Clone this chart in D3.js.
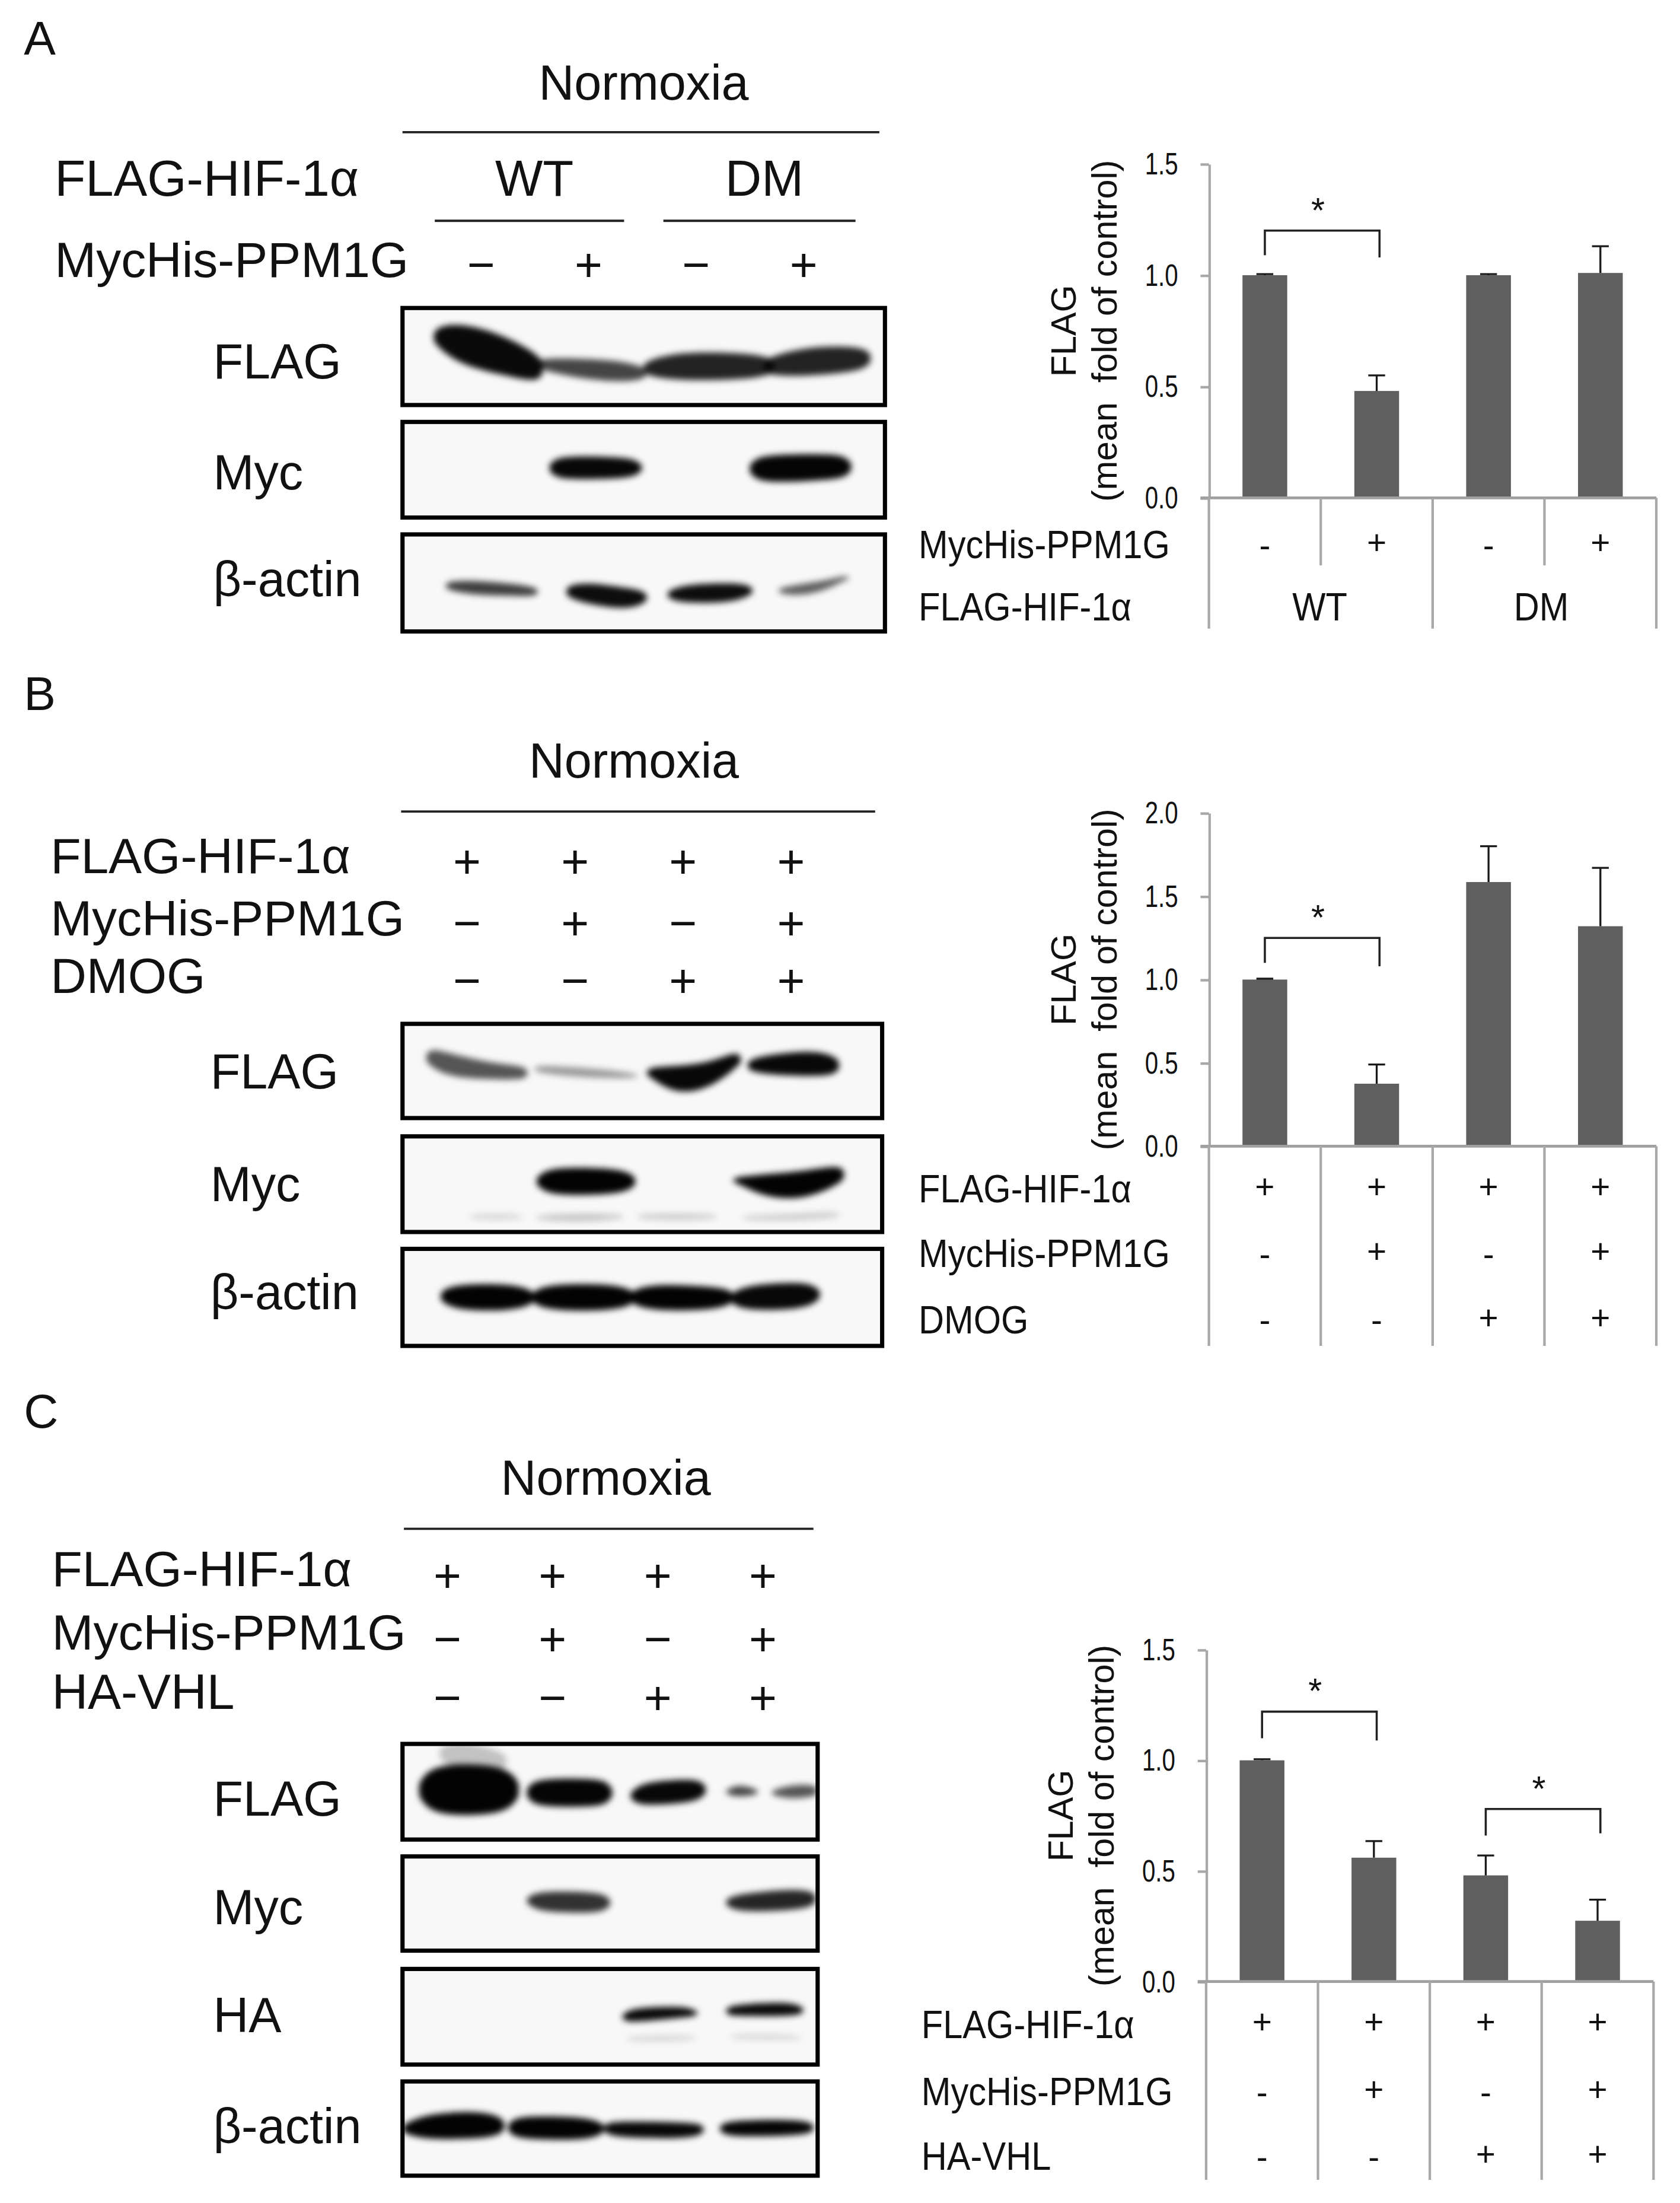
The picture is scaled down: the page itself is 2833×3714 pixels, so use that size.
<!DOCTYPE html>
<html>
<head>
<meta charset="utf-8">
<script src="https://cdn.jsdelivr.net/npm/d3@7"></script>
<style>
  html, body { margin: 0; background: #fff; }
  text { font-family: "Liberation Sans", Arial, sans-serif; fill: #111; }
</style>
</head>
<body>
<script>
// values
const flagLabel = 'FLAG-HIF-1\u03b1', mycLabel = 'MycHis-PPM1G';
const lanes = [0, 1, 2, 3];

const barsA = [1.0, 0.48, 1.0, 1.01];
const errTopA = [1.005, 0.55, 1.005, 1.13];
const ticksA = [0, 0.5, 1, 1.5];

const barsB = [1.0, 0.375, 1.585, 1.32];
const errTopB = [1.005, 0.49, 1.8, 1.67];
const ticksB = [0, 0.5, 1, 1.5, 2];

const barsC = [1.0, 0.56, 0.48, 0.275];
const errTopC = [1.005, 0.635, 0.57, 0.37];
const ticksC = [0, 0.5, 1, 1.5];

// bracket: first lane, last lane, level, left end, right end
const bracketsA = [[0, 1, 1.2, 1.09, 1.08]];
const bracketsB = [[0, 1, 1.25, 1.1, 1.08]];
const bracketsC = [[0, 1, 1.22, 1.1, 1.09], [2, 3, 0.78, 0.66, 0.67]];

// treatment rows over the blots
const rowsB = [[flagLabel, '++++'], [mycLabel, '\u2212+\u2212+'], ['DMOG', '\u2212\u2212++']];
const rowsC = [[flagLabel, '++++'], [mycLabel, '\u2212+\u2212+'], ['HA-VHL', '\u2212\u2212++']];
const rowA = [mycLabel, '\u2212+\u2212+'];

// treatment rows under the bars
const underA = [[mycLabel, '-+-+']];
const underB = [[flagLabel, '++++'], [mycLabel, '-+-+'], ['DMOG', '--++']];
const underC = [[flagLabel, '++++'], [mycLabel, '-+-+'], ['HA-VHL', '--++']];

// blot bands: darkness, then points along the band as [x %, y %, half thickness %] of the gel
const flagA = [
  [.96, [[7.5, 30, 9], [12, 37, 17], [20, 47, 17], [28, 62, 12]]],
  [.72, [[29, 58, 5], [36, 62, 8], [44, 65, 9], [49.5, 67, 6]]],
  [.86, [[51, 62, 7], [58, 60, 12], [70, 60, 11], [76, 60, 8]]],
  [.86, [[76, 60, 8], [84, 55, 12], [92, 53, 11], [96, 52, 8]]]
];
const mycA = [
  [.97, [[31.5, 48, 7], [34, 48, 10], [46, 48, 9], [48.6, 48, 6]]],
  [.98, [[73, 49, 8], [76, 49, 12], [89, 47, 11], [92, 47, 8]]]
];
const actinA = [
  [.75, [[10, 53, 4], [15, 55, 6], [23, 57, 5], [27, 59, 4]]],
  [.95, [[35, 59, 6], [39, 61, 9], [46, 66, 9], [49.6, 65, 6]]],
  [.95, [[56, 62, 5], [60, 61, 8], [68, 60, 8], [71.5, 58, 5]]],
  [.62, [[79, 58, 3], [83, 57, 5], [88, 52, 4], [91.5, 45, 2]]]
];
const flagB = [
  [.66, [[6, 36, 8], [10, 44, 10], [18, 50, 7], [25, 52, 6]]],
  [.38, [[28.5, 48, 3], [33, 50, 4], [42, 53, 4], [48, 55, 2]]],
  [.97, [[52, 52, 5], [57, 60, 12], [64, 55, 11], [69.5, 38, 7]]],
  [.97, [[73, 44, 6], [78, 43, 9], [86, 42, 11], [90, 44, 8]]]
];
const mycB = [
  [.99, [[29, 47, 7], [32, 47, 12], [44, 47, 11], [47.5, 47, 7]]],
  [.99, [[70, 46, 3], [76, 52, 10], [84, 51, 12], [91, 40, 8]]],
  [.13, [[15, 84, 2], [20, 84, 3], [24, 84, 2]]],
  [.2, [[29, 85, 2], [37, 85, 4], [45, 84, 2]]],
  [.18, [[50, 84, 2], [57, 84, 3], [64.5, 84, 2]]],
  [.17, [[72, 85, 2], [80, 85, 3], [90, 82, 3]]]
];
const actinB = [
  [.99, [[9, 49, 7], [13, 50, 11], [22, 50, 11], [26.5, 50, 7]]],
  [.99, [[28, 50, 7], [32, 50, 11], [43, 50, 11], [47.5, 50, 7]]],
  [.99, [[48.5, 50, 7], [53, 50, 11], [63, 51, 10], [68, 50, 7]]],
  [.97, [[69.5, 51, 7], [74, 50, 11], [83, 48, 11], [86, 47, 7]]]
];
const flagC = [
  [.22, [[10, 10, 8], [16, 16, 14], [24, 18, 8]]],
  [.99, [[5, 48, 12], [9, 48, 22], [23, 48, 21], [27, 48, 12]]],
  [.98, [[31, 51, 8], [34, 51, 12], [47, 51, 12], [49.5, 51, 8]]],
  [.97, [[56, 54, 6], [59, 52, 10], [69, 49, 10], [72, 48, 7]]],
  [.72, [[79, 50, 3], [81, 49, 5], [84.5, 50, 3]]],
  [.66, [[90, 51, 3], [94, 50, 6], [99, 49, 5]]]
];
const mycC = [
  [.8, [[31, 47, 5], [34, 48, 9], [46, 49, 9], [49, 49, 6]]],
  [.85, [[79, 49, 5], [83, 49, 8], [93, 46, 9], [98.5, 45, 7]]]
];
const haC = [
  [.96, [[54, 50, 4], [56, 48, 6], [67, 45, 5], [70, 46, 3]]],
  [.96, [[79, 44, 4], [82, 43, 5], [92, 42, 6], [95.5, 43, 4]]],
  [.13, [[55, 73, 2], [62, 73, 3], [69.5, 72, 2]]],
  [.12, [[80, 71, 2], [87, 71, 3], [95, 72, 2]]]
];
const actinC = [
  [.99, [[1, 50, 5], [6, 48, 11], [18, 46, 12], [23.5, 47, 8]]],
  [.99, [[26.5, 49, 7], [30, 49, 10], [43, 50, 10], [47.5, 50, 6]]],
  [.97, [[49.5, 50, 5], [53, 51, 7], [67, 52, 7], [71.5, 51, 5]]],
  [.98, [[77.5, 50, 5], [81, 50, 7], [93, 49, 7], [98, 49, 5]]]
];

const W = 2833 / 2.365, H = 3714 / 2.371;
const svg = d3.select('body').append('svg')
  .attr('width', 2833).attr('height', 3714)
  .attr('viewBox', `0 0 ${W} ${H}`)
  .attr('preserveAspectRatio', 'none')
  .style('display', 'block');

svg.append('defs').append('filter')
  .attr('id', 'soft')
  .attr('x', '-30%').attr('y', '-80%').attr('width', '160%').attr('height', '260%')
  .append('feGaussianBlur').attr('stdDeviation', 2.2);

function text(x, y, s, size, anchor, sy) {
  return svg.append('text')
    .attr('transform', `translate(${x},${y}) scale(1,${sy || 1})`)
    .attr('font-size', size)
    .attr('text-anchor', anchor || 'start')
    .text(s);
}

function rule(x1, x2, y) {
  svg.append('line').attr('x1', x1).attr('x2', x2).attr('y1', y).attr('y2', y)
    .attr('stroke', '#222').attr('stroke-width', 1.6);
}

const bandArea = d3.area().curve(d3.curveBasis);
let clipId = 0;

// round the two ends of a band so the blur gives a blob, not a cut edge
function rounded(pts) {
  const a = pts[0], b = pts[pts.length - 1];
  return [[a[0] - 1, a[1], a[2] * 0.35], ...pts, [b[0] + 1, b[1], b[2] * 0.35]];
}

function blot(x0, x1, y0, y1, bands, label, labelX, labelY) {
  const sx = d3.scaleLinear().domain([0, 100]).range([x0, x1]);
  const sy = d3.scaleLinear().domain([0, 100]).range([y0, y1]);
  const id = 'gel' + (clipId++);
  svg.select('defs').append('clipPath').attr('id', id)
    .append('rect').attr('x', x0).attr('y', y0).attr('width', x1 - x0).attr('height', y1 - y0);
  svg.append('rect').attr('x', x0).attr('y', y0).attr('width', x1 - x0).attr('height', y1 - y0)
    .attr('fill', '#f8f8f8');
  const g = svg.append('g').attr('clip-path', `url(#${id})`).append('g').attr('filter', 'url(#soft)');
  g.selectAll('path').data(bands).join('path')
    .attr('fill', '#000')
    .attr('fill-opacity', d => d[0])
    .attr('d', d => bandArea
      .x(p => sx(p[0]))
      .y0(p => sy(p[1] - p[2] * 1.25))
      .y1(p => sy(p[1] + p[2] * 1.25))(rounded(d[1])));
  svg.append('rect').attr('x', x0).attr('y', y0).attr('width', x1 - x0).attr('height', y1 - y0)
    .attr('fill', 'none').attr('stroke', '#000').attr('stroke-width', 3);
  text(labelX, labelY, label, 35);
}

function marks(xs, y, signs, size) {
  signs.split('').forEach((s, i) => text(xs(i), y, s, size, 'middle'));
}

function barPanel(o) {
  const y = d3.scaleLinear().domain(o.domain).range([o.y0, o.y1]);
  const x = d3.scaleBand().domain(lanes).range([o.x0, o.x1]).paddingInner(0.6).paddingOuter(0.3);
  const cx = i => x(i) + x.bandwidth() / 2;
  const g = svg.append('g');

  // bars and error bars
  g.selectAll('rect').data(o.bars).join('rect')
    .attr('x', (d, i) => x(i)).attr('width', x.bandwidth())
    .attr('y', d => y(d)).attr('height', d => o.y0 - y(d))
    .attr('fill', '#5f5f5f');
  g.selectAll('.err').data(o.err).join('path')
    .attr('class', 'err')
    .attr('fill', 'none').attr('stroke', '#1a1a1a').attr('stroke-width', 1.4)
    .attr('d', (d, i) => `M${cx(i)},${y(o.bars[i])}V${y(d)}M${cx(i) - 6},${y(d)}H${cx(i) + 6}`);

  // axis
  const ax = svg.append('g').attr('transform', `translate(${o.x0},0)`)
    .call(d3.axisLeft(y).tickValues(o.ticks).tickFormat(d3.format('.1f')).tickSize(6).tickSizeOuter(0));
  ax.selectAll('path,line').attr('stroke', '#a8a8a8').attr('stroke-width', 1.8);
  ax.selectAll('text')
    .attr('x', null).attr('dy', null)
    .attr('font-family', '"Liberation Sans", Arial, sans-serif')
    .attr('font-size', 17)
    .attr('text-anchor', 'end')
    .attr('transform', 'translate(-22,7) scale(1,1.3)');

  // baseline and lane dividers
  svg.append('line').attr('x1', o.x0 - 6).attr('x2', o.x1).attr('y1', o.y0).attr('y2', o.y0)
    .attr('stroke', '#a0a0a0').attr('stroke-width', 2);
  o.dividers.forEach((end, i) => {
    const dx = o.x0 + i * x.step();
    svg.append('line').attr('x1', dx).attr('x2', dx).attr('y1', o.y0).attr('y2', end)
      .attr('stroke', '#a8a8a8').attr('stroke-width', 1.8);
  });

  // significance brackets
  o.brackets.forEach(b => {
    const bx0 = cx(b[0]), bx1 = cx(b[1]) + 2;
    svg.append('path').attr('fill', 'none').attr('stroke', '#222').attr('stroke-width', 1.5)
      .attr('d', `M${bx0},${y(b[3])}V${y(b[2])}H${bx1}V${y(b[4])}`);
    text((bx0 + bx1) / 2 - 3, y(b[2]) - 6, '*', 25, 'middle');
  });

  // axis titles
  const mid = (o.y0 + o.y1) / 2;
  svg.append('text').attr('transform', `translate(${o.titleX},${mid}) rotate(-90)`)
    .attr('font-size', 25).attr('text-anchor', 'middle').text('FLAG');
  svg.append('text').attr('transform', `translate(${o.titleX + 29},${mid}) rotate(-90)`)
    .attr('font-size', 25).attr('text-anchor', 'middle').attr('xml:space', 'preserve').text('(mean  fold of control)');

  // treatment table
  o.under.forEach((row, r) => {
    text(o.labelX, o.rowY[r] + 8, row[0], 25.2, 'start', 1.12);
    row[1].split('').forEach((s, i) => text(cx(i), o.rowY[r] + (s === '+' ? 5 : 7), s, 24, 'middle'));
  });
}

// panel A
text(17, 39, 'A', 34);
text(459, 71, 'Normoxia', 35, 'middle');
rule(287, 627, 94);
text(39, 139, flagLabel, 36);
text(381, 139, 'WT', 36, 'middle');
text(545, 139, 'DM', 36, 'middle');
rule(310, 445, 157);
rule(473, 610, 157);
text(39, 197, rowA[0], 35.5);
marks(d3.scalePoint().domain(lanes).range([343, 573]), 200, rowA[1], 34);
blot(287, 631, 219, 288, flagA, 'FLAG', 152, 269);
blot(287, 631, 300, 368, mycA, 'Myc', 152, 348);
blot(287, 631, 380, 449, actinA, '\u03b2-actin', 152, 424);
barPanel({
  x0: 862, x1: 1181, y0: 354, y1: 116.5, domain: [0, 1.5], ticks: ticksA,
  bars: barsA, err: errTopA, brackets: bracketsA,
  dividers: [447, 402, 447, 402, 447],
  under: underA, rowY: [389], labelX: 655, titleX: 767
});
text(655, 441, flagLabel, 25.2, 'start', 1.12);
text(941, 441, 'WT', 25.2, 'middle', 1.12);
text(1099, 441, 'DM', 25.2, 'middle', 1.12);

// panel B
text(17, 505, 'B', 34);
text(452, 553, 'Normoxia', 35, 'middle');
rule(286, 624, 577);
const xsB = d3.scalePoint().domain(lanes).range([333, 564]);
[621, 665, 706].forEach((y, r) => {
  text(36, y, rowsB[r][0], 35.5);
  marks(xsB, y + 3, rowsB[r][1], 34);
});
blot(287, 629, 728, 795, flagB, 'FLAG', 150, 774);
blot(287, 629, 808, 876, mycB, 'Myc', 150, 854);
blot(287, 629, 888, 957, actinB, '\u03b2-actin', 150, 931);
barPanel({
  x0: 862, x1: 1181, y0: 815, y1: 578, domain: [0, 2], ticks: ticksB,
  bars: barsB, err: errTopB, brackets: bracketsB,
  dividers: [957, 957, 957, 957, 957],
  under: underB, rowY: [847, 893, 940], labelX: 655, titleX: 767
});

// panel C
text(17, 1015, 'C', 34);
text(432, 1063, 'Normoxia', 35, 'middle');
rule(288, 580, 1087);
const xsC = d3.scalePoint().domain(lanes).range([319, 544]);
[1128, 1173, 1215].forEach((y, r) => {
  text(37, y, rowsC[r][0], 35.5);
  marks(xsC, y + 4, rowsC[r][1], 34);
});
blot(287, 583, 1240, 1308, flagC, 'FLAG', 152, 1291);
blot(287, 583, 1320, 1387, mycC, 'Myc', 152, 1368);
blot(287, 583, 1400, 1468, haC, 'HA', 152, 1445);
blot(287, 583, 1480, 1547, actinC, '\u03b2-actin', 152, 1524);
barPanel({
  x0: 860, x1: 1179, y0: 1409, y1: 1173, domain: [0, 1.5], ticks: ticksC,
  bars: barsC, err: errTopC, brackets: bracketsC,
  dividers: [1550, 1550, 1550, 1550, 1550],
  under: underC, rowY: [1441, 1489, 1535], labelX: 657, titleX: 765
});
</script>
</body>
</html>
